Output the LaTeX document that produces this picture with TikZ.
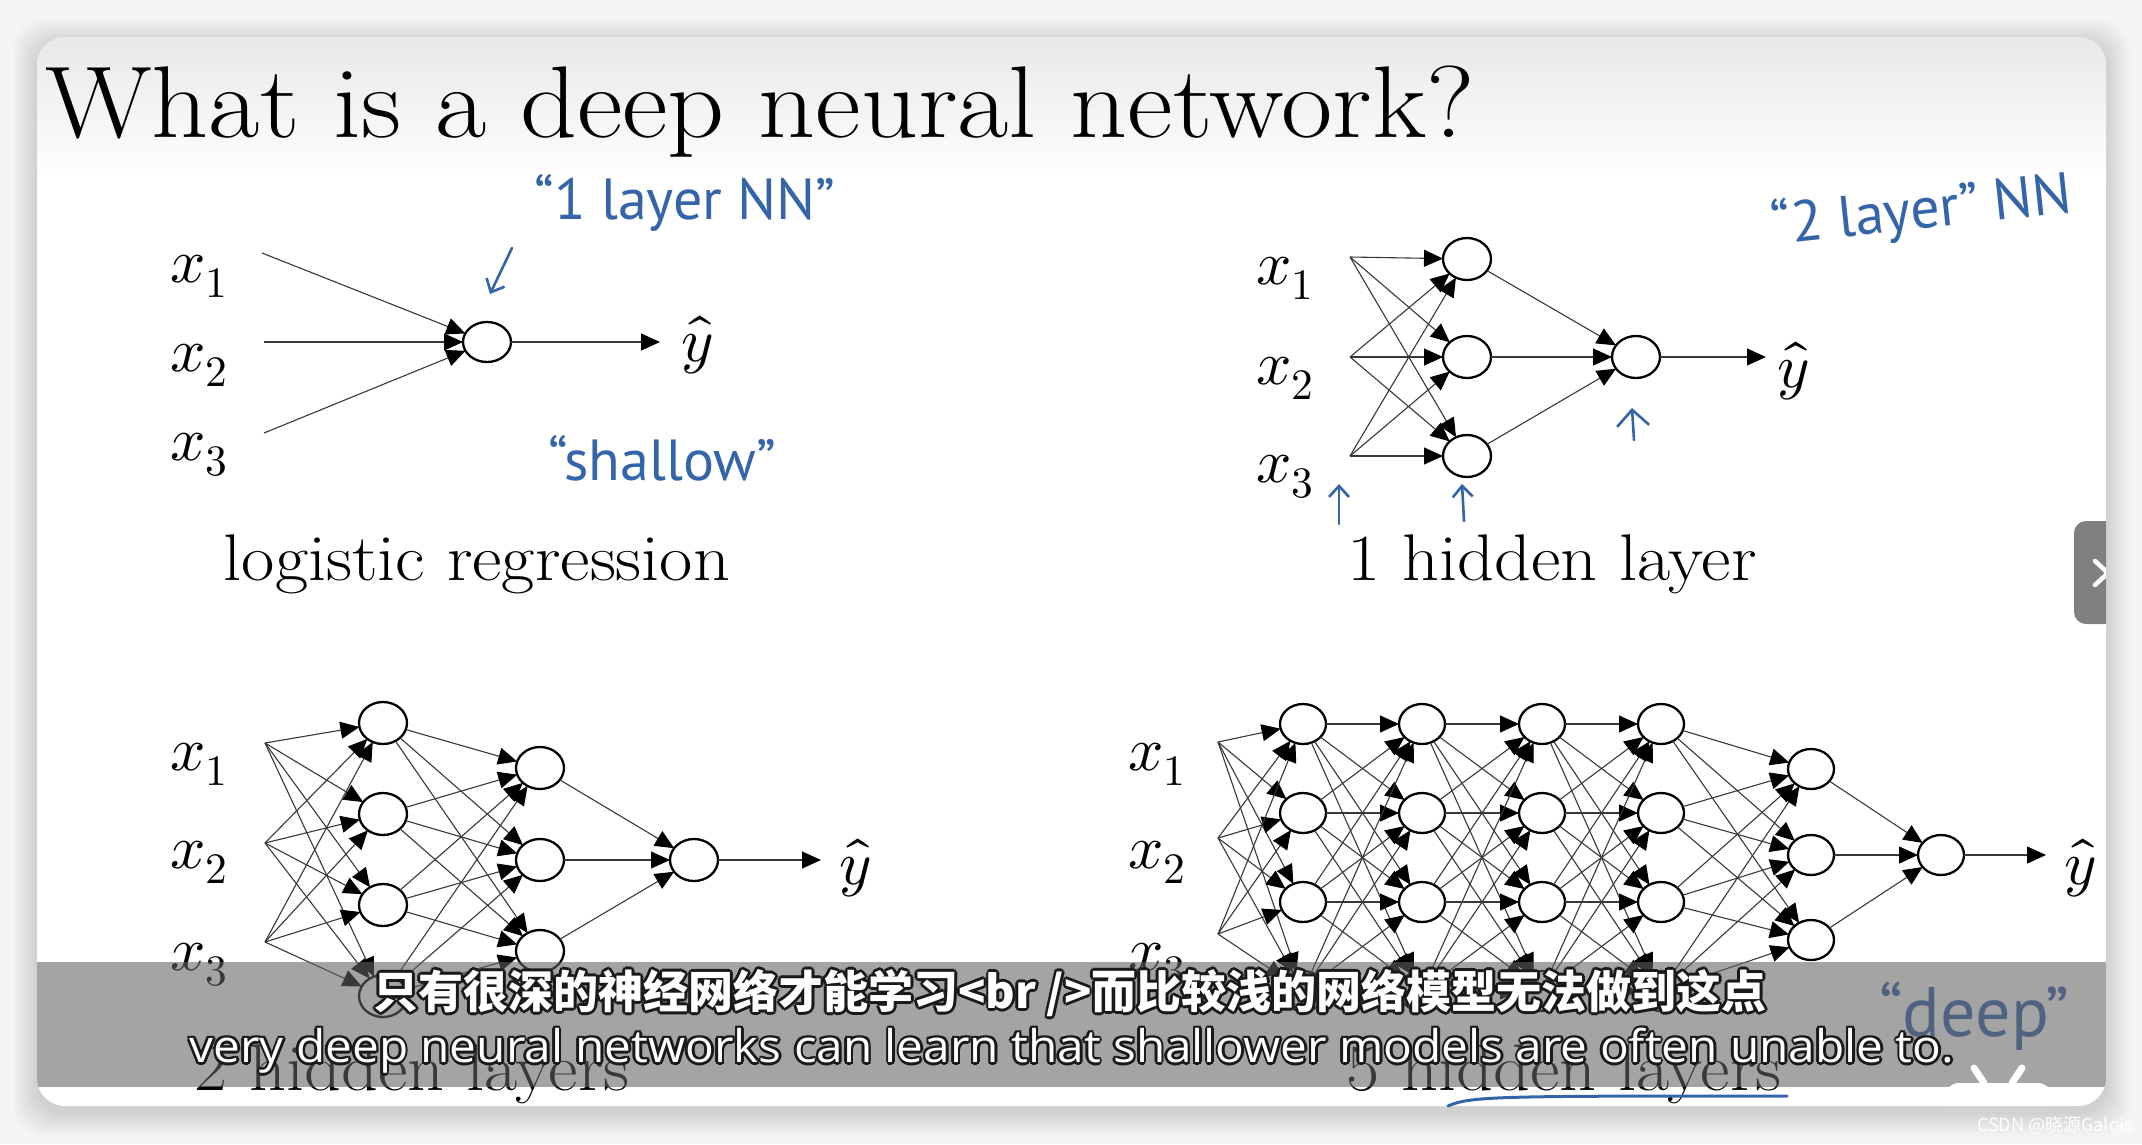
\documentclass[tikz,border=0pt]{standalone}
\usepackage{fontspec}
\usepackage{unicode-math}
\setmainfont{Latin Modern Roman}[FakeStretch=1.095]
\setmathfont{Latin Modern Math}
\newfontfamily\cjkfont{Noto Sans CJK SC}
\newfontfamily\subfont{Open Sans}[FakeStretch=1.06]
\newfontfamily\handfont{PT Sans}
\usetikzlibrary{arrows.meta,shapes.geometric,calc}
\definecolor{handblue}{RGB}{52,100,170}
\definecolor{outerbg}{RGB}{245,245,245}
\definecolor{tabgray}{RGB}{128,128,128}
\newcommand{\outlinenode}[4]{%
  \foreach \ang in {0,45,...,315}{\node[font=#3,text=black!90,inner sep=0pt] at ($(#2)+(\ang:2.6)$) {#4};}%
  \node[font=#3,text=white,inner sep=0pt] (#1) at (#2) {#4};}
\begin{document}
\begin{tikzpicture}[x=1pt,y=-1pt,
  neuron/.style={ellipse,draw=black,line width=2.3pt,fill=white,minimum width=48pt,minimum height=42pt,inner sep=0pt,outer sep=0pt},
  conn/.style={draw=black!78,line width=1.1pt,-{Triangle[length=19pt,width=17pt,color=black]}},
  xlab/.style={inner sep=0pt,font=\fontsize{62}{62}\selectfont},
  caption/.style={anchor=base,inner sep=0pt,font=\fontsize{66}{70}\selectfont},
  hand/.style={text=handblue,inner sep=0pt,font=\handfont\fontsize{58}{58}\selectfont},
  handarrow/.style={draw=handblue,line width=2.6pt,line cap=round,-{Straight Barb[length=11pt,width=20pt]}},
]
% background and card
\fill[outerbg] (0,0) rectangle (2142,1144);
\useasboundingbox (0,0) rectangle (2142,1144);
\foreach \k in {2,4,...,24}{\fill[black,opacity=0.012,rounded corners=30pt] (37-\k,37-\k+6) rectangle (2106+\k,1106+\k+6);}
\fill[white,rounded corners=28pt] (37,37) rectangle (2106,1106);
\begin{scope}
  \clip[rounded corners=28pt] (37,37) rectangle (2106,1106);
  \shade[top color=black!9,bottom color=white] (37,37) rectangle (2106,180);
\end{scope}

% title
\node[anchor=base west,inner sep=0pt,font=\fontsize{102}{110}\selectfont] (title) at (45,137) {What is a deep neural network?};

% ---------- logistic regression ----------
\coordinate (lin1) at (262,253);
\coordinate (lin2) at (264,342);
\coordinate (lin3) at (264,433);
\node[neuron,minimum height=40pt] (lnode) at (487,342) {};
\coordinate (lend) at (660,342);
\foreach \i in {1,2,3}{\draw[conn] (lin\i) -- (lnode);}
\draw[conn] (lnode) -- (lend);
\node[xlab] (lx1) at (199,276) {$x_1$};
\node[xlab] (lx2) at (199,365) {$x_2$};
\node[xlab] (lx3) at (199,455) {$x_3$};
\node[xlab] (ly) at (697,345) {$\hat{y}$};
\node[caption] (lcap) at (477,580) {logistic regression};

% ---------- 1 hidden layer ----------
\foreach \i/\y in {1/257,2/357,3/456}{\coordinate (tin\i) at (1350,\y);}
\foreach \j/\y in {1/259,2/357,3/456}{\node[neuron] (th\j) at (1467,\y) {};}
\node[neuron] (tout) at (1636,357) {};
\coordinate (tend) at (1766,357);
\foreach \i in {1,2,3}{\foreach \j in {1,2,3}{\draw[conn] (tin\i) -- (th\j);}}
\foreach \j in {1,2,3}{\draw[conn] (th\j) -- (tout);}
\draw[conn] (tout) -- (tend);
\node[xlab] (tx1) at (1285,278) {$x_1$};
\node[xlab] (tx2) at (1285,378) {$x_2$};
\node[xlab] (tx3) at (1285,477) {$x_3$};
\node[xlab] (ty) at (1793,371) {$\hat{y}$};
\node[caption] (tcap) at (1552,580) {1 hidden layer};

% ---------- 2 hidden layers ----------
\foreach \i/\y in {1/743,2/843,3/942}{\coordinate (bin\i) at (265,\y);}
\foreach \j/\y in {1/723,2/814,3/905,4/996}{\node[neuron] (ba\j) at (383,\y) {};}
\foreach \j/\y in {1/768,2/860,3/951}{\node[neuron] (bb\j) at (540,\y) {};}
\node[neuron] (bout) at (694,860) {};
\coordinate (bend) at (821,860);
\foreach \i in {1,2,3}{\foreach \j in {1,...,4}{\draw[conn] (bin\i) -- (ba\j);}}
\foreach \i in {1,...,4}{\foreach \j in {1,2,3}{\draw[conn] (ba\i) -- (bb\j);}}
\foreach \j in {1,2,3}{\draw[conn] (bb\j) -- (bout);}
\draw[conn] (bout) -- (bend);
\node[xlab] (bx1) at (199,764) {$x_1$};
\node[xlab] (bx2) at (199,862) {$x_2$};
\node[xlab] (bx3) at (199,965) {$x_3$};
\node[xlab] (by) at (855,868) {$\hat{y}$};
\node[caption] (bcap) at (412,1090) {2 hidden layers};

% ---------- 5 hidden layers ----------
\foreach \i/\y in {1/742,2/838,3/934}{\coordinate (din\i) at (1218,\y);}
\foreach \l/\x in {1/1303,2/1422,3/1542,4/1661}{%
  \foreach \j/\y in {1/724,2/813,3/902,4/991}{\node[neuron,minimum width=46pt,minimum height=40pt] (d\l-\j) at (\x,\y) {};}}
\foreach \j/\y in {1/769,2/855,3/940}{\node[neuron,minimum width=46pt,minimum height=40pt] (d5-\j) at (1811,\y) {};}
\node[neuron,minimum width=46pt,minimum height=40pt] (dout) at (1941,855) {};
\coordinate (dend) at (2046,855);
\foreach \i in {1,2,3}{\foreach \j in {1,...,4}{\draw[conn] (din\i) -- (d1-\j);}}
\foreach \l/\m in {1/2,2/3,3/4}{\foreach \i in {1,...,4}{\foreach \j in {1,...,4}{\draw[conn] (d\l-\i) -- (d\m-\j);}}}
\foreach \i in {1,...,4}{\foreach \j in {1,2,3}{\draw[conn] (d4-\i) -- (d5-\j);}}
\foreach \j in {1,2,3}{\draw[conn] (d5-\j) -- (dout);}
\draw[conn] (dout) -- (dend);
\node[xlab] (dx1) at (1157,764) {$x_1$};
\node[xlab] (dx2) at (1157,862) {$x_2$};
\node[xlab] (dx3) at (1157,965) {$x_3$};
\node[xlab] (dy) at (2080,868) {$\hat{y}$};
\node[caption] (dcap) at (1564,1090) {5 hidden layers};

% ---------- handwritten notes ----------
\node[hand] (n1) at (685,203) {“1 layer NN”};
\node[hand,rotate=6] (n2) at (1922,212) {“2 layer” NN};
\node[hand] (n3) at (662,458) {“shallow”};
\node[hand,font=\handfont\fontsize{70}{70}\selectfont] (n4) at (1974,1016) {“deep”};
\coordinate (a1s) at (512,248); \coordinate (a1e) at (490,294);
\draw[handarrow] (a1s) -- (a1e);
\coordinate (a2s) at (1339,524); \coordinate (a2e) at (1339,484);
\draw[handarrow] (a2s) -- (a2e);
\coordinate (a3s) at (1464,521); \coordinate (a3e) at (1462,484);
\draw[handarrow] (a3s) -- (a3e);
\coordinate (a4s) at (1634,440); \coordinate (a4e) at (1632,408);
\draw[handarrow,-{Straight Barb[length=16pt,width=32pt]}] (a4s) -- (a4e);
\coordinate (u1) at (1448,1106); \coordinate (u2) at (1787,1096);
\draw[handblue,line width=3pt,line cap=round] (u1) .. controls (1470,1096) and (1500,1096) .. (u2);

% ---------- overlays: tab, subtitle bar, icon ----------
\begin{scope}
  \clip[rounded corners=28pt] (37,37) rectangle (2106,1106);
  \fill[tabgray,rounded corners=12pt] (2074,521) rectangle (2130,624);
  \coordinate (c1) at (2095,561); \coordinate (c2) at (2108,573); \coordinate (c3) at (2095,585);
  \draw[white,line width=4.5pt,line cap=round,line join=round] (c1) -- (c2) -- (c3);
  \fill[black!61,opacity=0.58] (37,962) rectangle (2106,1087);
\end{scope}

\outlinenode{subcn}{1070,993}{\cjkfont\bfseries\fontsize{45}{46}\selectfont}{只有很深的神经网络才能学习<br />而比较浅的网络模型无法做到这点}
\outlinenode{suben}{1072,1051}{\subfont\fontsize{45}{46}\selectfont}{very deep neural networks can learn that shallower models are often unable to.}

\begin{scope}
  \clip[rounded corners=28pt] (37,37) rectangle (2106,1106);
  \fill[white,rounded corners=14pt] (1945,1083) rectangle (2052,1140);
  \draw[white,line width=7pt,line cap=round] (1974,1068) -- (1984,1083);
  \draw[white,line width=7pt,line cap=round] (2022,1068) -- (2012,1083);
\end{scope}
\node[anchor=west,inner sep=0pt,text=white,font=\cjkfont\fontsize{18}{18}\selectfont] (wm) at (1977,1126) {CSDN @晓源Galois};
\end{tikzpicture}
\end{document}
